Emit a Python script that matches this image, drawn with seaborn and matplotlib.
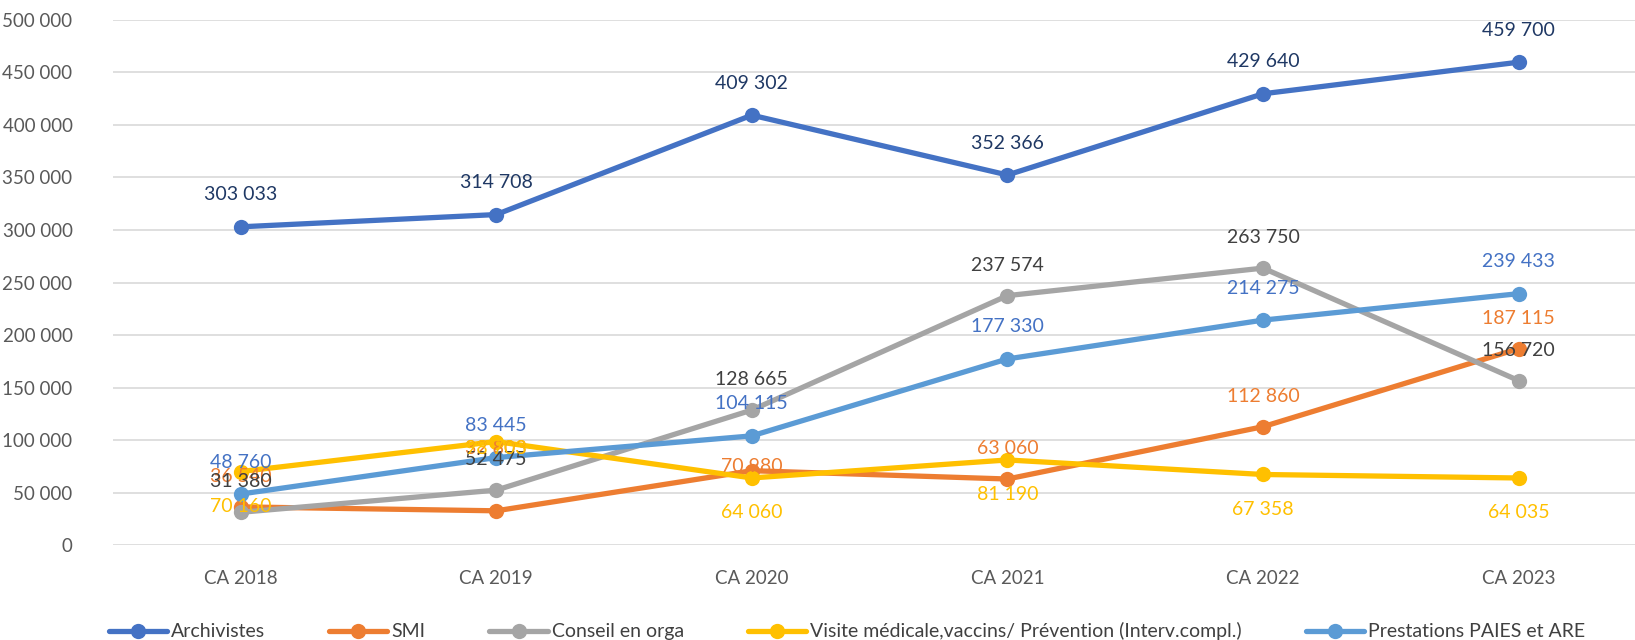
import pandas as pd
import matplotlib.pyplot as plt
import matplotlib.ticker as mticker
import seaborn as sns

sns.set_style("white")
plt.rcParams["font.family"] = ["Lato", "DejaVu Sans"]

# Données
annees = ["CA 2018", "CA 2019", "CA 2020", "CA 2021", "CA 2022", "CA 2023"]
series = ["Archivistes", "SMI", "Conseil en orga",
          "Visite médicale,vaccins/ Prévention (Interv.compl.)",
          "Prestations PAIES et ARE"]

archivistes = [303033, 314708, 409302, 352366, 429640, 459700]
smi = [36540, 32803, 70980, 63060, 112860, 187115]
conseil = [31380, 52475, 128665, 237574, 263750, 156720]
visite = [70160, 98703, 64060, 81190, 67358, 64035]
prestations = [48760, 83445, 104115, 177330, 214275, 239433]

valeurs = [archivistes, smi, conseil, visite, prestations]

couleurs = ["#4472C4", "#ED7D31", "#A5A5A5", "#FFC000", "#5B9BD5"]
couleurs_etiq = ["#1F3864", "#ED7D31", "#404040", "#FFC000", "#4472C4"]

# décalage vertical des étiquettes (points)
decalages = [
    [23] * 6,
    [22, 45, 3, 22, 22, 22],
    [22] * 6,
    [-25, -5, -25, -25, -25, -25],
    [23] * 6,
]

df = pd.DataFrame({
    "annee": annees * len(series),
    "serie": [s for s in series for _ in annees],
    "valeur": [v for vals in valeurs for v in vals],
})

fig = plt.figure(figsize=(16.35, 6.4), dpi=100)
ax = fig.add_axes([0.069, 0.148, 0.938, 0.821])

sns.lineplot(data=df, x="annee", y="valeur", hue="serie", style="serie",
             palette=couleurs, markers=["o"] * 5, dashes=False,
             linewidth=3.8, markersize=11, markeredgewidth=0, ax=ax)

# étiquettes de données
for vals, col, dec in zip(valeurs, couleurs_etiq, decalages):
    for i, v in enumerate(vals):
        ax.annotate(f"{v:,}".replace(",", " "), (i, v), xytext=(0, dec[i]),
                    textcoords="offset points", ha="center", va="center",
                    fontsize=14, color=col, zorder=10)

ax.set_xlim(-0.5, 5.5)
ax.set_ylim(0, 500000)
ax.yaxis.set_major_locator(mticker.MultipleLocator(50000))
ax.yaxis.set_major_formatter(
    mticker.FuncFormatter(lambda v, p: f"{int(v):,}".replace(",", " ")))
ax.grid(axis="y", color="#D9D9D9", linewidth=1.2)
ax.set_axisbelow(True)
for s in ax.spines.values():
    s.set_visible(False)
ax.tick_params(axis="both", labelsize=13.5, colors="#595959", length=0)
ax.tick_params(axis="y", pad=29)
ax.tick_params(axis="x", pad=18)
ax.set_xlabel("")
ax.set_ylabel("")

handles, labels = ax.get_legend_handles_labels()
ax.get_legend().remove()
fig.legend(handles, labels, loc="lower center", bbox_to_anchor=(0.518, -0.022),
           ncol=5, frameon=False, fontsize=14, handlelength=3, borderpad=0.2,
           handletextpad=0.2, columnspacing=3.3, labelcolor="#404040")

plt.savefig("out.png", dpi=100)
